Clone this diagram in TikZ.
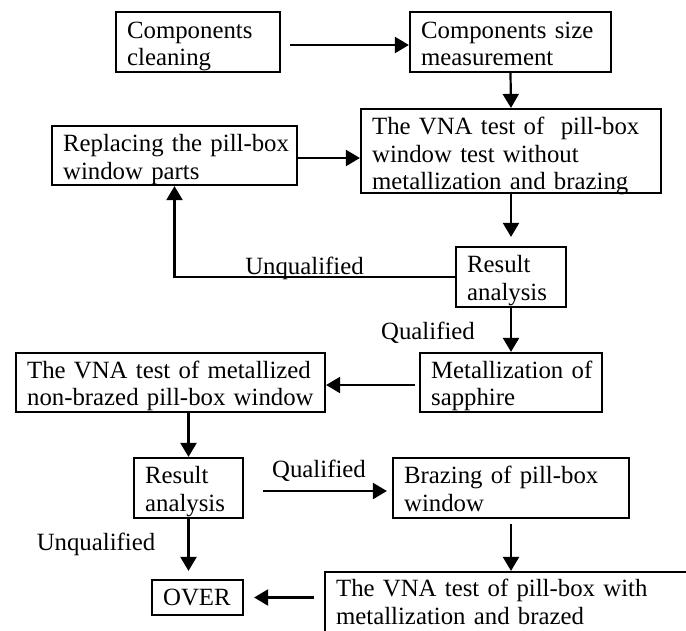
\documentclass[tikz,border=0pt]{standalone}
\usepackage{fontspec}
\setmainfont{Liberation Serif}
\usetikzlibrary{arrows.meta}
\begin{document}
\begin{tikzpicture}[x=1pt,y=-1pt,
  box/.style={draw,line width=2.2pt,inner sep=0pt},
  txt/.style={anchor=base west,inner sep=0pt,text width=330pt,align=left,
    font=\fontsize{24.8}{27.5}\selectfont},
  lbl/.style={anchor=base,inner sep=0pt,font=\fontsize{24.8}{27.5}\selectfont},
  arr/.style={line width=2.2pt,-{Triangle[length=14pt,width=16pt]}}]
\useasboundingbox (0,0) rectangle (686,630);
\clip (0,0) rectangle (686,630);

% process boxes
\node[box,minimum width=164pt,minimum height=60pt] (A) at (198,42) {};
\node[box,minimum width=201pt,minimum height=60pt] (B) at (510.5,42) {};
\node[box,minimum width=300pt,minimum height=84pt] (C) at (511,151) {};
\node[box,minimum width=245pt,minimum height=59pt] (D) at (174.5,155.5) {};
\node[box,minimum width=110pt,minimum height=60pt] (E) at (511,277) {};
\node[box,minimum width=182pt,minimum height=59pt] (F) at (511,382.5) {};
\node[box,minimum width=309pt,minimum height=59pt] (G) at (170.5,382.5) {};
\node[box,minimum width=109pt,minimum height=60pt] (H) at (188.5,488) {};
\node[box,minimum width=236pt,minimum height=60pt] (I) at (511,488) {};
\node[box,minimum width=91pt,minimum height=35pt] (O) at (197.5,597.5) {};
\node[box,minimum width=400pt,minimum height=90pt] (J) at (525,617) {};

% box texts
\node[txt] (At) at ([xshift=12pt,yshift=-27.5pt]A.north west) {Components\\cleaning};
\node[txt] (Bt) at ([xshift=12pt,yshift=-27.5pt]B.north west) {Components size\\measurement};
\node[txt] (Ct) at ([xshift=12pt,yshift=-27pt]C.north west) {The VNA test of\ \ pill-box\\window test without\\metallization and brazing};
\node[txt] (Dt) at ([xshift=12pt,yshift=-27pt]D.north west) {Replacing the pill-box\\window parts};
\node[txt] (Et) at ([xshift=12pt,yshift=-27pt]E.north west) {Result\\analysis};
\node[txt] (Ft) at ([xshift=12pt,yshift=-26.5pt]F.north west) {Metallization of\\sapphire};
\node[txt] (Gt) at ([xshift=12pt,yshift=-26.5pt]G.north west) {The VNA test of metallized\\non-brazed pill-box window};
\node[txt] (Ht) at ([xshift=12pt,yshift=-27pt]H.north west) {Result\\analysis};
\node[txt] (It) at ([xshift=12pt,yshift=-27pt]I.north west) {Brazing of pill-box\\window};
\node[txt] (Ot) at ([xshift=12pt,yshift=-27pt]O.north west) {OVER};
\node[txt] (Jt) at ([xshift=12pt,yshift=-26pt]J.north west) {The VNA test of pill-box with\\metallization and brazed};

% connectors
\draw[arr,shorten <=9pt] ([yshift=-3pt]A.east) -- ([yshift=-3pt]B.west);
\draw[arr] (B.south) -- (C.north);
\draw[arr] ([yshift=-2.5pt]D.east) -- ([yshift=-2.5pt]D.east -| C.west);
\draw[arr,shorten >=9pt] (C.south) -- (E.north);
\draw[arr] (E.west) -| (D.south);
\draw[arr] (E.south) -- (F.north);
\draw[arr,shorten <=4pt] ([yshift=-2.5pt]F.west) -- ([yshift=-2.5pt]F.west -| G.east);
\draw[arr] (H.north |- G.south) -- (H.north);
\draw[arr,shorten <=19pt,shorten >=5pt] ([yshift=-3pt]H.east) -- ([yshift=-3pt]I.west);
\draw[arr,shorten >=8pt] (H.south) -- (H.south |- O.north);
\draw[arr,shorten <=5pt] (I.south) -- (I.south |- J.north);
\draw[arr,shorten <=10pt,shorten >=10pt] (J.west |- O.east) -- (O.east);

% branch labels
\node[lbl] (u1) at (304.5,274) {Unqualified};
\node[lbl] (q1) at (428,339) {Qualified};
\node[lbl] (q2) at (319,477) {Qualified};
\node[lbl] (u2) at (96,550) {Unqualified};
\end{tikzpicture}
\end{document}
